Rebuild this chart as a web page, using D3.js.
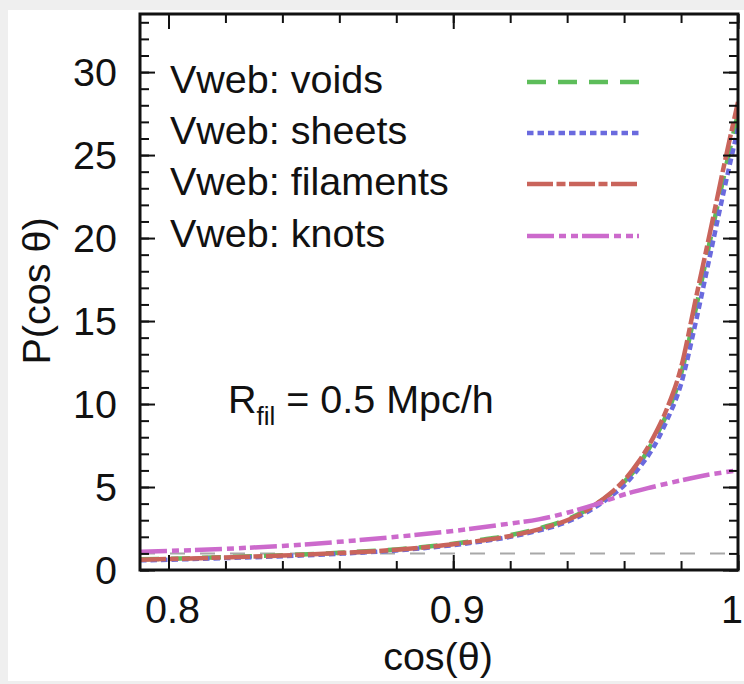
<!DOCTYPE html>
<html>
<head>
<meta charset="utf-8">
<script src="https://cdn.jsdelivr.net/npm/d3@7"></script>
<style>
  html, body { margin: 0; padding: 0; background: #efefef; }
  svg { display: block; }
  text { font-family: "Liberation Sans", Arial, Helvetica, sans-serif; fill: #111; }
</style>
</head>
<body>
<svg id="chart" width="744" height="684"></svg>
<script>
// ---- data ----
const xVoids      = [0.79, 0.80, 0.82, 0.84, 0.86, 0.88, 0.90, 0.91, 0.92, 0.93, 0.94, 0.945, 0.95, 0.955, 0.96, 0.965, 0.97, 0.975, 0.98, 0.985, 0.99, 0.995, 1.0];
const yVoids      = [0.64, 0.68, 0.78, 0.89, 1.04, 1.24, 1.58, 1.82, 2.10, 2.50, 3.05, 3.45, 3.95, 4.55, 5.30, 6.30, 7.70, 9.40, 11.8, 15.6, 19.7, 23.7, 27.5];
const xSheets     = [0.79, 0.80, 0.82, 0.84, 0.86, 0.88, 0.90, 0.91, 0.92, 0.93, 0.94, 0.945, 0.95, 0.955, 0.96, 0.965, 0.97, 0.975, 0.98, 0.985, 0.99, 0.995, 1.0];
const ySheets     = [0.58, 0.62, 0.72, 0.83, 0.98, 1.18, 1.50, 1.72, 2.00, 2.38, 2.90, 3.30, 3.80, 4.40, 5.10, 6.10, 7.30, 9.00, 11.2, 14.8, 18.8, 22.8, 26.6];
const xFilaments  = [0.79, 0.80, 0.82, 0.84, 0.86, 0.88, 0.90, 0.91, 0.92, 0.93, 0.94, 0.945, 0.95, 0.955, 0.96, 0.965, 0.97, 0.975, 0.98, 0.985, 0.99, 0.995, 1.0];
const yFilaments  = [0.62, 0.66, 0.76, 0.87, 1.02, 1.22, 1.55, 1.78, 2.05, 2.45, 3.00, 3.40, 3.95, 4.60, 5.40, 6.50, 7.90, 9.70, 12.2, 16.2, 20.2, 24.3, 28.2];
const xKnots      = [0.79, 0.80, 0.82, 0.84, 0.86, 0.88, 0.90, 0.92, 0.93, 0.94, 0.95, 0.96, 0.97, 0.98, 0.99, 1.0];
const yKnots      = [1.10, 1.15, 1.28, 1.45, 1.70, 2.00, 2.35, 2.80, 3.05, 3.45, 3.95, 4.55, 5.00, 5.40, 5.75, 6.00];

const seriesNames = ["Vweb: voids", "Vweb: sheets", "Vweb: filaments", "Vweb: knots"];
const xTickLabels = [0.8, 0.9, 1.0];
const yTickLabels = [0, 5, 10, 15, 20, 25, 30];
const refLineValue = 1;
const annotationMain = "R";
const annotationSub = "fil";
const annotationRest = " = 0.5 Mpc/h";
const xLabel = "cos(θ)";
const yLabel = "P(cos θ)";

// ---- styles ----
const colors = ["#5dbd5a", "#6a6ade", "#c9645b", "#cc6acc"];
const dashes = ["19,12", "6.5,4", "26,3.5,9,3.5", "27,5,7,5,7,4"];

const svg = d3.select("#chart");
const W = 744, H = 684;

// page background panel
svg.append("rect").attr("x", 0).attr("y", 0).attr("width", W).attr("height", H).attr("fill", "#efefef");
svg.append("rect").attr("x", 8).attr("y", 10).attr("width", W - 8).attr("height", 671).attr("fill", "#ffffff");

const plot = { left: 140, right: 738, top: 14, bottom: 570 };
const x = d3.scaleLinear().domain([0.79, 1.0]).range([plot.left, plot.right]);
const y = d3.scaleLinear().domain([0, 33.5]).range([plot.bottom, plot.top]);

const fontSize = 39.5;

// clip
svg.append("clipPath").attr("id", "clip")
  .append("rect").attr("x", plot.left).attr("y", plot.top)
  .attr("width", plot.right - plot.left).attr("height", plot.bottom - plot.top);

const g = svg.append("g").attr("clip-path", "url(#clip)");

// reference dashed line at y=1
g.append("line")
  .attr("x1", x(0.79)).attr("x2", x(1.0))
  .attr("y1", y(refLineValue)).attr("y2", y(refLineValue))
  .attr("stroke", "#a8a8a8").attr("stroke-width", 2)
  .attr("stroke-dasharray", "15,15");

const series = [
  { xs: xVoids, ys: yVoids },
  { xs: xSheets, ys: ySheets },
  { xs: xFilaments, ys: yFilaments },
  { xs: xKnots, ys: yKnots }
];

const line = d3.line().x(d => x(d[0])).y(d => y(d[1])).curve(d3.curveMonotoneX);

series.forEach((s, i) => {
  const pts = s.xs.map((v, j) => [v, s.ys[j]]);
  g.append("path")
    .datum(pts)
    .attr("d", line)
    .attr("fill", "none")
    .attr("stroke", colors[i])
    .attr("stroke-width", 4.5)
    .attr("stroke-dasharray", dashes[i]);
});

// ticks via d3 axes
const xMinor = d3.range(0.8, 1.0001, 0.02);
const yMinor = d3.range(0, 34, 1);

function styleAxis(sel) {
  sel.select(".domain").remove();
  sel.selectAll(".tick line").attr("stroke", "#111").attr("stroke-width", 2);
  sel.selectAll(".tick text").remove();
}

// bottom minor / major
svg.append("g").attr("transform", `translate(0,${plot.bottom})`)
  .call(d3.axisTop(x).tickValues(xMinor).tickSize(9)).call(styleAxis);
svg.append("g").attr("transform", `translate(0,${plot.bottom})`)
  .call(d3.axisTop(x).tickValues(xTickLabels).tickSize(15)).call(styleAxis);
// top mirror
svg.append("g").attr("transform", `translate(0,${plot.top})`)
  .call(d3.axisBottom(x).tickValues(xMinor).tickSize(9)).call(styleAxis);
svg.append("g").attr("transform", `translate(0,${plot.top})`)
  .call(d3.axisBottom(x).tickValues(xTickLabels).tickSize(15)).call(styleAxis);
// left
svg.append("g").attr("transform", `translate(${plot.left},0)`)
  .call(d3.axisRight(y).tickValues(yMinor).tickSize(9)).call(styleAxis);
svg.append("g").attr("transform", `translate(${plot.left},0)`)
  .call(d3.axisRight(y).tickValues(yTickLabels).tickSize(15)).call(styleAxis);
// right
svg.append("g").attr("transform", `translate(${plot.right},0)`)
  .call(d3.axisLeft(y).tickValues(yMinor).tickSize(9)).call(styleAxis);
svg.append("g").attr("transform", `translate(${plot.right},0)`)
  .call(d3.axisLeft(y).tickValues(yTickLabels).tickSize(15)).call(styleAxis);

// frame
svg.append("rect")
  .attr("x", plot.left).attr("y", plot.top)
  .attr("width", plot.right - plot.left).attr("height", plot.bottom - plot.top)
  .attr("fill", "none").attr("stroke", "#111").attr("stroke-width", 3);

// tick labels (the last one is kept inside the page edge)
const fmtX = d => (d === 1 ? "1" : d3.format(".1f")(d));
svg.append("g").selectAll("text").data(xTickLabels).join("text")
  .attr("x", d => d === 1 ? W - 1 : x(d) + 4).attr("y", 623)
  .attr("text-anchor", d => d === 1 ? "end" : "middle").attr("font-size", fontSize)
  .text(fmtX);

svg.append("g").selectAll("text").data(yTickLabels).join("text")
  .attr("x", 117).attr("y", d => y(d))
  .attr("dy", "0.36em")
  .attr("text-anchor", "end").attr("font-size", fontSize)
  .text(d => d);

// axis labels
svg.append("text")
  .attr("x", 438).attr("y", 670)
  .attr("text-anchor", "middle").attr("font-size", fontSize)
  .text(xLabel);

svg.append("text")
  .attr("transform", "translate(50,291) rotate(-90)")
  .attr("text-anchor", "middle").attr("font-size", fontSize)
  .text(yLabel);

// legend
const legendBaselines = [93, 144, 195, 247];
seriesNames.forEach((name, i) => {
  svg.append("text")
    .attr("x", 170).attr("y", legendBaselines[i])
    .attr("font-size", fontSize)
    .text(name);
  svg.append("line")
    .attr("x1", 527).attr("x2", 639)
    .attr("y1", legendBaselines[i] - 11).attr("y2", legendBaselines[i] - 11)
    .attr("stroke", colors[i]).attr("stroke-width", 4.5)
    .attr("stroke-dasharray", dashes[i]);
});

// annotation
const ann = svg.append("text")
  .attr("x", 228).attr("y", 413)
  .attr("font-size", fontSize);
ann.append("tspan").text(annotationMain);
ann.append("tspan").attr("font-size", 26).attr("dy", 12).text(annotationSub);
ann.append("tspan").attr("dy", -12).text(annotationRest);
</script>
</body>
</html>
